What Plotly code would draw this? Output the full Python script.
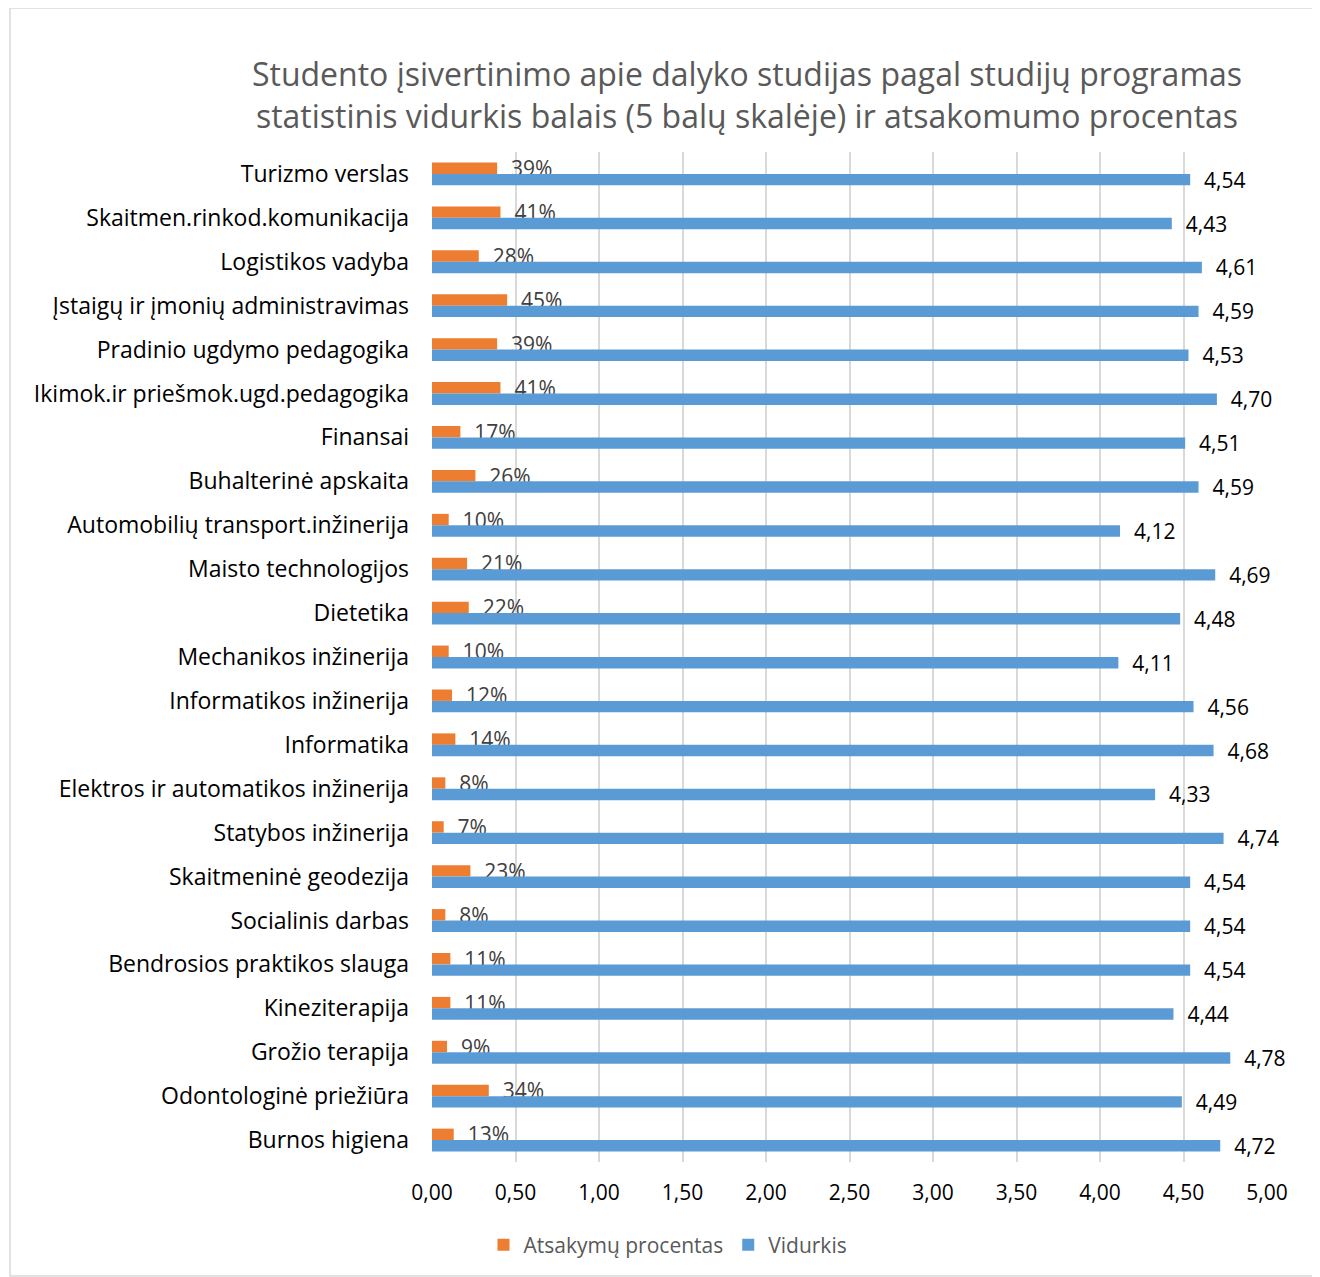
import plotly.graph_objects as go

categories = [
    "Turizmo verslas", "Skaitmen.rinkod.komunikacija", "Logistikos vadyba",
    "Įstaigų ir įmonių administravimas", "Pradinio ugdymo pedagogika",
    "Ikimok.ir priešmok.ugd.pedagogika", "Finansai", "Buhalterinė apskaita",
    "Automobilių transport.inžinerija", "Maisto technologijos", "Dietetika",
    "Mechanikos inžinerija", "Informatikos inžinerija", "Informatika",
    "Elektros ir automatikos inžinerija", "Statybos inžinerija",
    "Skaitmeninė geodezija", "Socialinis darbas", "Bendrosios praktikos slauga",
    "Kineziterapija", "Grožio terapija", "Odontologinė priežiūra", "Burnos higiena",
]
response_pct = [39, 41, 28, 45, 39, 41, 17, 26, 10, 21, 22, 10, 12, 14, 8, 7, 23, 8, 11, 11, 9, 34, 13]
average = [4.54, 4.43, 4.61, 4.59, 4.53, 4.70, 4.51, 4.59, 4.12, 4.69, 4.48, 4.11, 4.56,
           4.68, 4.33, 4.74, 4.54, 4.54, 4.54, 4.44, 4.78, 4.49, 4.72]
x_ticks = [0, 0.5, 1, 1.5, 2, 2.5, 3, 3.5, 4, 4.5, 5]

FONT = "Open Sans"
OFF = 8  # page body margin
W, H = 1320 - OFF, 1277 - OFF
L, R, T, B = 432 - OFF, 1320 - 1267, 152 - OFF, 1277 - 1162
pw, ph = W - L - R, H - T - B

pad = "\u00a0\u00a0"
fig = go.Figure()
fig.add_trace(go.Bar(
    y=categories, x=[p / 100 for p in response_pct], orientation="h",
    name="Atsakymų procentas", marker=dict(color="#ED7D31", line=dict(width=0)),
    text=[f"{pad}{p}%" for p in response_pct], textposition="outside",
    constraintext="none",
    textfont=dict(family=FONT, size=21, color="#404040"), cliponaxis=False,
))
fig.add_trace(go.Bar(
    y=categories, x=average, orientation="h",
    name="Vidurkis", marker=dict(color="#5B9BD5", line=dict(width=0)),
    text=[pad + f"{v:.2f}".replace(".", ",") for v in average], textposition="outside",
    constraintext="none",
    textfont=dict(family=FONT, size=21, color="#000000"), cliponaxis=False,
))

fig.update_layout(
    width=W, height=H,
    margin=dict(l=L, r=R, t=T, b=B, pad=0),
    paper_bgcolor="white", plot_bgcolor="white",
    barmode="group", bargap=0.48, bargroupgap=0,
    font=dict(family=FONT, size=20, color="#000000"),
    title=dict(
        text="Studento įsivertinimo apie dalyko studijas pagal studijų programas<br>statistinis vidurkis balais (5 balų skalėje) ir atsakomumo procentas",
        font=dict(family=FONT, size=32, color="#595959"),
        x=(747 - OFF) / W, xanchor="center", y=1 - (86 - OFF) / H, yanchor="middle",
        xref="container", yref="container",
    ),
    xaxis=dict(
        range=[0, 5], tickvals=x_ticks,
        ticktext=[f"{v:.2f}".replace(".", ",") for v in x_ticks],
        showgrid=True, gridcolor="#D9D9D9", gridwidth=1.5,
        zeroline=False, showline=False, ticks="", ticklabelstandoff=16,
        tickfont=dict(family=FONT, size=21, color="#000000"),
    ),
    yaxis=dict(
        autorange="reversed", showgrid=False, zeroline=False, showline=False,
        ticks="", ticklabelstandoff=22,
        tickfont=dict(family=FONT, size=23, color="#000000"),
    ),
    legend=dict(
        orientation="h", x=(668 - 432) / pw, xanchor="center",
        y=(1162 - 1245) / ph, yanchor="middle", itemwidth=30,
        font=dict(family=FONT, size=21, color="#595959"), traceorder="normal",
    ),
    showlegend=True,
    shapes=[dict(
        type="rect", xref="paper", yref="paper",
        x0=(10 - 432) / pw, x1=(1317 - 432) / pw,
        y0=(1162 - 1276) / ph, y1=(1162 - 8) / ph,
        line=dict(color="#D9D9D9", width=1.5), fillcolor="rgba(0,0,0,0)", layer="below",
    )],
)

fig.write_html("out.html")
